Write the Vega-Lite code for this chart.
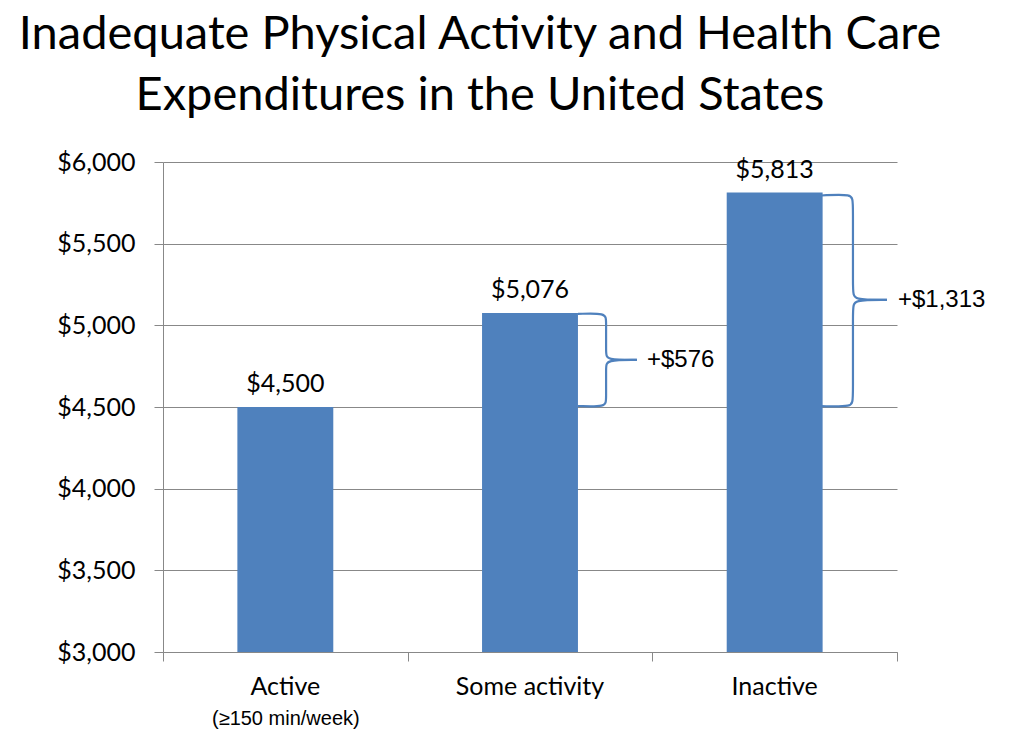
{
  "$schema": "https://vega.github.io/schema/vega-lite/v6.json",
  "autosize": "none",
  "width": 734,
  "height": 490,
  "padding": {"left": 163, "top": 162, "right": 133, "bottom": 90},
  "background": "white",
  "title": {
    "text": ["Inadequate Physical Activity and Health Care", "Expenditures in the United States"],
    "font": "Lato",
    "fontSize": 47,
    "fontWeight": "normal",
    "color": "#000000",
    "lineHeight": 61,
    "anchor": "middle",
    "dx": -50,
    "offset": 30
  },
  "config": {
    "view": {"stroke": null},
    "axis": {"titleFont": "Lato"}
  },
  "datasets": {
    "bars": [
      {"cat": "Active", "value": 4500},
      {"cat": "Some activity", "value": 5076},
      {"cat": "Inactive", "value": 5813}
    ],
    "braces": [
      {"seg": "a1", "i": 0, "bx": 1.696, "by": 5070},
      {"seg": "a1", "i": 1, "bx": 1.811, "by": 5076},
      {"seg": "a1", "i": 2, "bx": 1.811, "by": 5030},
      {"seg": "a1", "i": 3, "bx": 1.811, "by": 4830},
      {"seg": "a1", "i": 4, "bx": 1.811, "by": 4788},
      {"seg": "a1", "i": 5, "bx": 1.937, "by": 4788},
      {"seg": "a2", "i": 0, "bx": 1.937, "by": 4788},
      {"seg": "a2", "i": 1, "bx": 1.811, "by": 4788},
      {"seg": "a2", "i": 2, "bx": 1.811, "by": 4746},
      {"seg": "a2", "i": 3, "bx": 1.811, "by": 4546},
      {"seg": "a2", "i": 4, "bx": 1.811, "by": 4500},
      {"seg": "a2", "i": 5, "bx": 1.696, "by": 4506},
      {"seg": "b1", "i": 0, "bx": 2.69, "by": 5795},
      {"seg": "b1", "i": 1, "bx": 2.82, "by": 5805},
      {"seg": "b1", "i": 2, "bx": 2.82, "by": 5760},
      {"seg": "b1", "i": 3, "bx": 2.82, "by": 5200},
      {"seg": "b1", "i": 4, "bx": 2.82, "by": 5156},
      {"seg": "b1", "i": 5, "bx": 2.959, "by": 5156},
      {"seg": "b2", "i": 0, "bx": 2.959, "by": 5156},
      {"seg": "b2", "i": 1, "bx": 2.82, "by": 5156},
      {"seg": "b2", "i": 2, "bx": 2.82, "by": 5112},
      {"seg": "b2", "i": 3, "bx": 2.82, "by": 4545},
      {"seg": "b2", "i": 4, "bx": 2.82, "by": 4500},
      {"seg": "b2", "i": 5, "bx": 2.69, "by": 4505}
    ],
    "diffs": [
      {"lbl": "+$576", "bx": 1.978, "by": 4788},
      {"lbl": "+$1,313", "bx": 3.004, "by": 5156}
    ]
  },
  "layer": [
    {
      "data": {"name": "bars"},
      "mark": {"type": "bar", "color": "#4F81BD"},
      "encoding": {
        "x": {
          "field": "cat", "type": "nominal",
          "sort": ["Active", "Some activity", "Inactive"],
          "scale": {"paddingInner": 0.608, "paddingOuter": 0.304},
          "axis": {
            "orient": "bottom",
            "title": null, "labelAngle": 0, "ticks": false, "domain": false,
            "labelFont": "Lato", "labelFontSize": 25, "labelColor": "#000000",
            "labelPadding": 22
          }
        },
        "y": {
          "field": "value", "type": "quantitative",
          "scale": {"domain": [3000, 6000], "zero": false, "nice": false},
          "axis": {
            "title": null, "values": [3000, 3500, 4000, 4500, 5000, 5500, 6000],
            "format": "$,.0f", "labelFont": "Lato", "labelFontSize": 25,
            "labelColor": "#000000", "labelPadding": 19, "tickSize": 9,
            "tickColor": "#888888", "domainColor": "#888888", "gridColor": "#888888",
            "grid": true, "gridWidth": 1
          }
        },
        "y2": {"datum": 3000}
      }
    },
    {
      "data": {"name": "bars"},
      "mark": {"type": "text", "baseline": "alphabetic", "dy": -15, "font": "Lato", "fontSize": 25, "color": "#000000"},
      "encoding": {
        "x": {
          "field": "cat", "type": "nominal",
          "sort": ["Active", "Some activity", "Inactive"],
          "scale": {"paddingInner": 0.608, "paddingOuter": 0.304},
          "axis": {
            "orient": "bottom",
            "title": null, "labelAngle": 0, "ticks": false, "domain": false,
            "labelFont": "Liberation Sans", "labelFontSize": 20, "labelColor": "#000000",
            "labelPadding": 56,
            "labelExpr": "datum.value == 'Active' ? '(≥150 min/week)' : ''"
          }
        },
        "y": {"field": "value", "type": "quantitative", "scale": {"domain": [3000, 6000], "zero": false, "nice": false}},
        "text": {"field": "value", "type": "quantitative", "format": "$,.0f"}
      }
    },
    {
      "data": {"name": "braces"},
      "mark": {"type": "line", "interpolate": "basis", "color": "#4F81BD", "strokeWidth": 2.2},
      "encoding": {
        "x": {
          "field": "bx", "type": "quantitative",
          "scale": {"domain": [0, 3], "nice": false, "zero": false},
          "axis": {
            "orient": "bottom",
            "title": null, "values": [0, 1, 2, 3], "labels": false, "grid": false,
            "tickSize": 9, "tickColor": "#888888", "domainColor": "#888888"
          }
        },
        "y": {"field": "by", "type": "quantitative", "scale": {"domain": [3000, 6000], "zero": false, "nice": false}},
        "detail": {"field": "seg"},
        "order": {"field": "i", "type": "quantitative"}
      }
    },
    {
      "data": {"name": "diffs"},
      "mark": {"type": "text", "align": "left", "baseline": "middle", "font": "Liberation Sans", "fontSize": 24, "color": "#000000"},
      "encoding": {
        "x": {"field": "bx", "type": "quantitative", "scale": {"domain": [0, 3], "nice": false, "zero": false}, "axis": null},
        "y": {"field": "by", "type": "quantitative", "scale": {"domain": [3000, 6000], "zero": false, "nice": false}},
        "text": {"field": "lbl"}
      }
    }
  ],
  "resolve": {"scale": {"x": "independent"}}
}
